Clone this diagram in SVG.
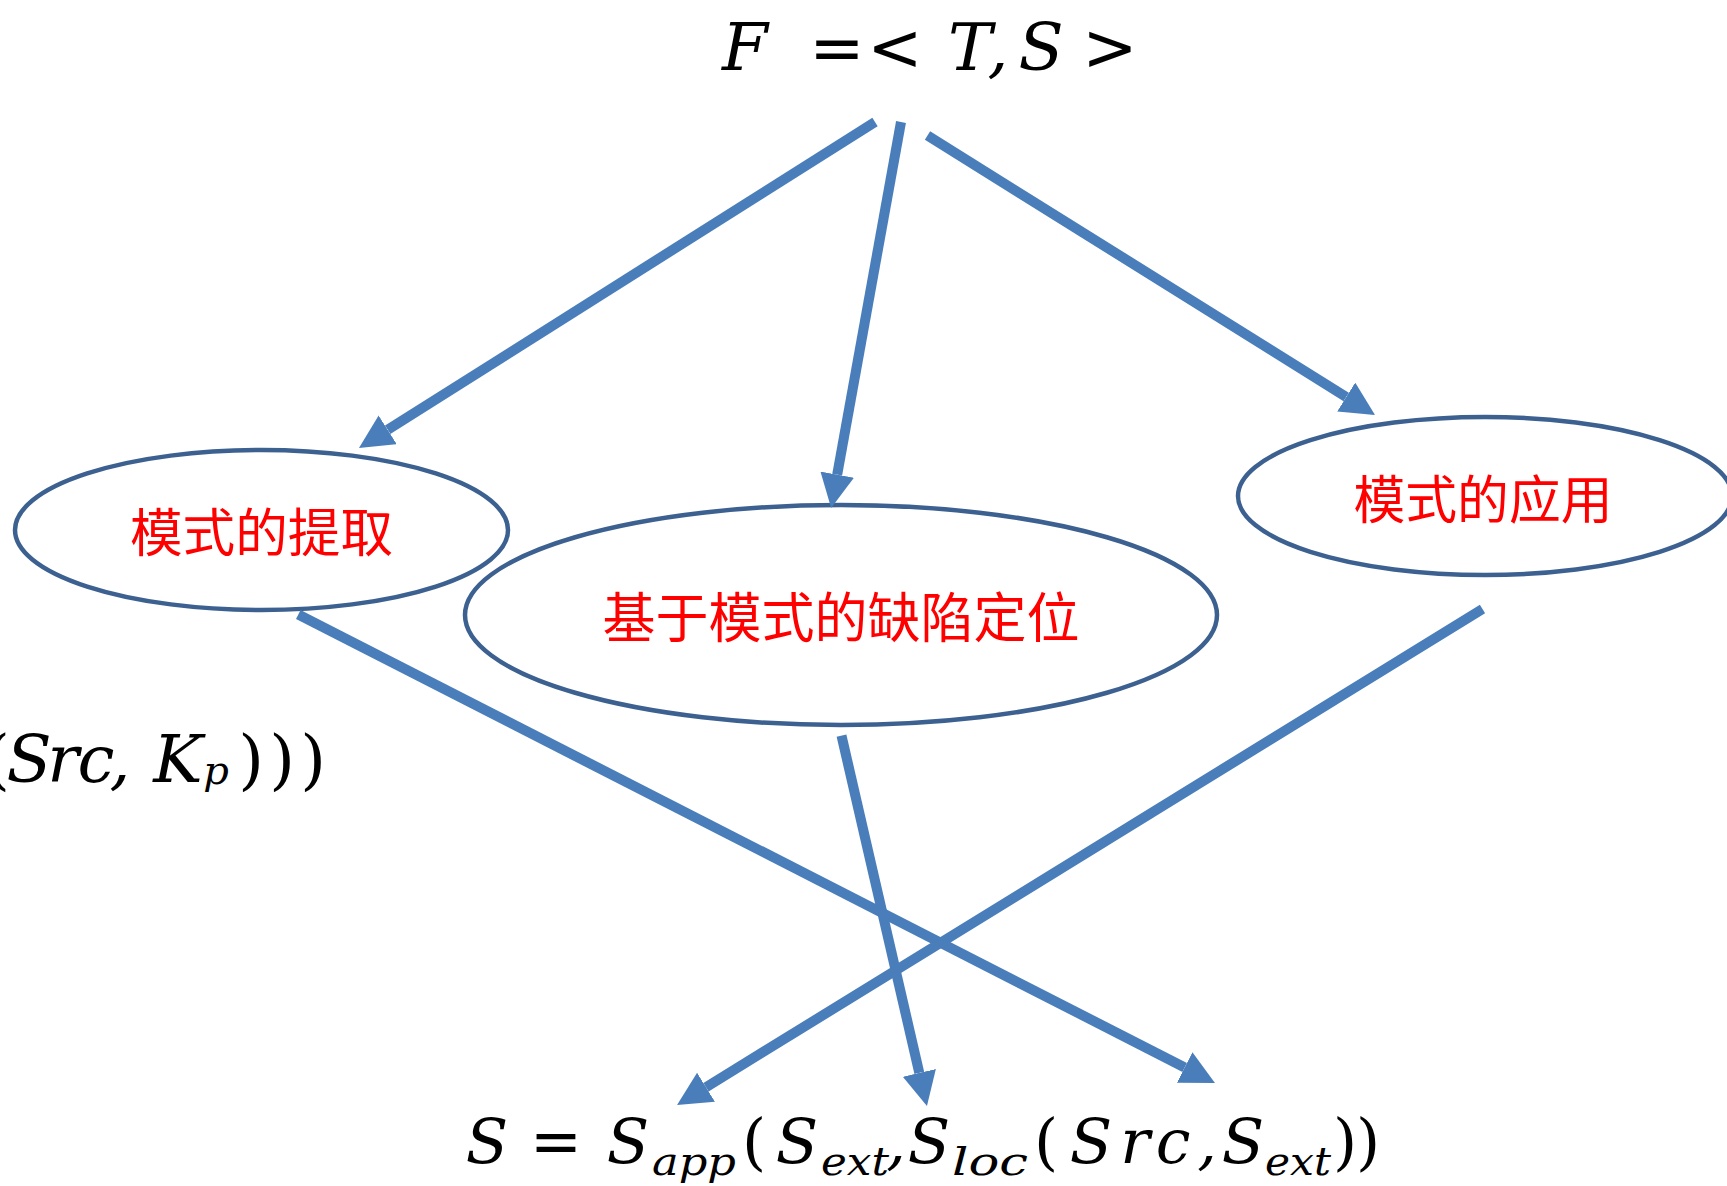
<svg xmlns="http://www.w3.org/2000/svg" width="1727" height="1186" viewBox="0 0 1727 1186">
<style>
.node ellipse{fill:#ffffff;stroke:#3c6190;stroke-width:4.5}
.lbl{font-family:"Noto Sans CJK SC","Noto Sans CJK JP",sans-serif;fill:#ff0000;text-anchor:middle;dominant-baseline:central}
.conn line{stroke:#4a7ebb;stroke-width:10;stroke-linecap:butt;marker-end:url(#ah)}
.math{font-family:"DejaVu Serif","Liberation Serif",serif;font-style:italic;fill:#000000;text-anchor:middle}
.op{font-style:normal;font-family:"DejaVu Sans","Liberation Sans",sans-serif}
.up{font-style:normal}
</style>
<defs>
<marker id="ah" viewBox="0 0 34 34" markerWidth="34" markerHeight="34" markerUnits="userSpaceOnUse" refX="0" refY="17" orient="auto">
<path d="M0,0 L34,17 L0,34 z" fill="#4a7ebb"/>
</marker>
</defs>
<rect width="1727" height="1186" fill="#ffffff"/>

<g id="formula-top">
<text class="math" y="70" font-size="66"><tspan x="745">F</tspan><tspan x="837" class="op" font-size="66">=</tspan><tspan x="895" class="op" font-size="66">&lt;</tspan><tspan x="970">T</tspan><tspan x="998">,</tspan><tspan x="1041">S</tspan><tspan x="1110" class="op" font-size="66">&gt;</tspan></text>
</g>

<g id="formula-left">
<text class="math" y="782" font-size="66"><tspan x="-3" class="up">(</tspan><tspan x="29">S</tspan><tspan x="63">r</tspan><tspan x="96">c</tspan><tspan x="120">,</tspan><tspan x="178">K</tspan><tspan x="216" y="784" font-size="40">p</tspan><tspan x="251" y="782" class="up">)</tspan><tspan x="282" class="up">)</tspan><tspan x="313" class="up">)</tspan></text>
</g>

<g id="formula-bottom">
<text class="math" y="1163" font-size="62"><tspan x="487">S</tspan><tspan x="556" class="op" font-size="62">=</tspan><tspan x="628">S</tspan><tspan x="694" y="1175" font-size="39" textLength="84" lengthAdjust="spacingAndGlyphs">app</tspan><tspan x="754" y="1163" class="up">(</tspan><tspan x="797">S</tspan><tspan x="855" y="1175" font-size="39" textLength="68" lengthAdjust="spacingAndGlyphs">ext</tspan><tspan x="896" y="1163">,</tspan><tspan x="929">S</tspan><tspan x="990" y="1175" font-size="39" textLength="76" lengthAdjust="spacingAndGlyphs">loc</tspan><tspan x="1046" y="1163" class="up">(</tspan><tspan x="1091">S</tspan><tspan x="1135">r</tspan><tspan x="1173">c</tspan><tspan x="1207">,</tspan><tspan x="1243">S</tspan><tspan x="1298" y="1175" font-size="39" textLength="66" lengthAdjust="spacingAndGlyphs">ext</tspan><tspan x="1345" y="1163" class="up">)</tspan><tspan x="1368" class="up">)</tspan></text>
</g>

<g id="node-extract" class="node">
<ellipse cx="261.5" cy="530" rx="246.5" ry="80"/>
<text class="lbl" x="261.5" y="529" font-size="52" textLength="263" lengthAdjust="spacingAndGlyphs">模式的提取</text>
</g>
<g id="node-locate" class="node">
<ellipse cx="841" cy="615" rx="376" ry="110"/>
<text class="lbl" x="841" y="614" font-size="54" textLength="477" lengthAdjust="spacingAndGlyphs">基于模式的缺陷定位</text>
</g>
<g id="node-apply" class="node">
<ellipse cx="1485" cy="496" rx="247" ry="79"/>
<text class="lbl" x="1483" y="496" font-size="52" textLength="259" lengthAdjust="spacingAndGlyphs">模式的应用</text>
</g>

<g id="connectors" class="conn">
<line x1="875" y1="122" x2="387.7" y2="429.8"/>
<line x1="901" y1="122" x2="837.2" y2="474.6"/>
<line x1="927.5" y1="135.5" x2="1346.2" y2="397"/>
<line x1="298.3" y1="614.5" x2="1184.7" y2="1067.5"/>
<line x1="841.5" y1="735.7" x2="919.3" y2="1072.9"/>
<line x1="1482.5" y1="609" x2="706" y2="1087.2"/>
</g>
</svg>
